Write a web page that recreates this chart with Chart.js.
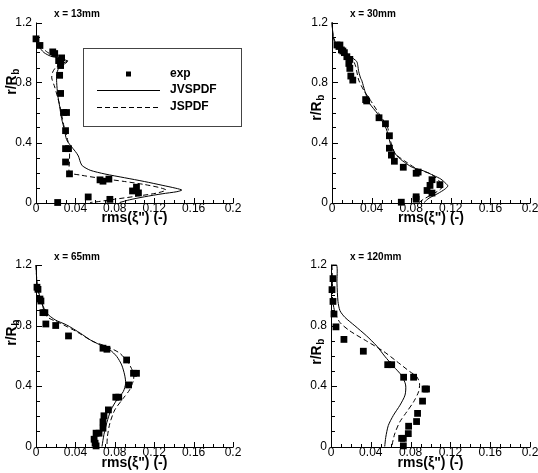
<!DOCTYPE html>
<html><head><meta charset="utf-8">
<script src="https://cdn.jsdelivr.net/npm/chart.js@4/dist/chart.umd.min.js"></script>
<style>
html,body{margin:0;padding:0;background:#fff;}
#wrap{position:relative;width:538px;height:473px;background:#fff;}
canvas{position:absolute;left:0;top:0;}
</style></head><body><div id="wrap">
<canvas id="c0" width="538" height="473"></canvas>
<canvas id="c1" width="538" height="473"></canvas>
<canvas id="c2" width="538" height="473"></canvas>
<canvas id="c3" width="538" height="473"></canvas>
</div>
<script>
// ---------- data ----------
const xTickValues = [0, 0.04, 0.08, 0.12, 0.16, 0.2];
const xTickLabels = ['0', '0.04', '0.08', '0.12', '0.16', '0.2'];
const yTickValues = [0, 0.4, 0.8, 1.2];
const yTickLabels = ['0', '0.4', '0.8', '1.2'];
const panelTitles = ['x = 13mm', 'x = 30mm', 'x = 65mm', 'x = 120mm'];
const seriesNames = ['exp', 'JVSPDF', 'JSPDF'];
const xAxisTitle = 'rms(ξ") (-)';

// pairs: [rms, r/Rb]
const exp13 = [[0.000,1.091],[0.004,1.047],[0.017,1.004],[0.019,0.993],[0.026,0.964],[0.023,0.946],[0.025,0.930],[0.025,0.913],[0.024,0.848],[0.025,0.727],[0.028,0.600],[0.031,0.600],[0.030,0.479],[0.030,0.359],[0.033,0.359],[0.030,0.270],[0.034,0.191],[0.065,0.151],[0.068,0.142],[0.074,0.156],[0.098,0.077],[0.102,0.102],[0.104,0.064],[0.053,0.037],[0.075,0.021],[0.022,0.000]];
const jv13 = [[0.000,1.080],[0.003,1.040],[0.008,1.000],[0.015,0.975],[0.022,0.965],[0.028,0.955],[0.032,0.940],[0.028,0.920],[0.023,0.895],[0.021,0.850],[0.021,0.800],[0.022,0.720],[0.024,0.640],[0.026,0.560],[0.029,0.480],[0.031,0.420],[0.035,0.380],[0.040,0.340],[0.043,0.310],[0.045,0.270],[0.047,0.245],[0.055,0.215],[0.070,0.190],[0.090,0.165],[0.110,0.140],[0.128,0.115],[0.142,0.095],[0.148,0.083],[0.143,0.072],[0.128,0.058],[0.110,0.038],[0.095,0.018],[0.085,0.000]];
const js13 = [[0.000,1.100],[0.005,1.040],[0.012,1.000],[0.020,0.975],[0.028,0.960],[0.032,0.945],[0.026,0.925],[0.020,0.900],[0.017,0.870],[0.016,0.830],[0.019,0.770],[0.024,0.650],[0.028,0.520],[0.032,0.420],[0.034,0.350],[0.034,0.270],[0.034,0.200],[0.045,0.183],[0.065,0.162],[0.090,0.140],[0.110,0.120],[0.125,0.100],[0.132,0.083],[0.122,0.062],[0.100,0.040],[0.078,0.020],[0.062,0.005],[0.055,0.000]];

const exp30 = [[0.005,1.050],[0.008,1.050],[0.007,1.040],[0.0095,1.017],[0.011,1.010],[0.0125,0.999],[0.015,0.972],[0.018,0.954],[0.017,0.927],[0.018,0.894],[0.019,0.843],[0.021,0.816],[0.034,0.686],[0.035,0.677],[0.0475,0.565],[0.054,0.525],[0.058,0.445],[0.058,0.362],[0.060,0.316],[0.063,0.275],[0.072,0.235],[0.085,0.195],[0.087,0.203],[0.101,0.152],[0.099,0.114],[0.109,0.119],[0.096,0.080],[0.101,0.063],[0.085,0.038],[0.085,0.022],[0.070,0.002]];
const jv30 = [[0.000,1.200],[0.001,1.120],[0.003,1.060],[0.010,1.017],[0.019,0.972],[0.025,0.940],[0.026,0.915],[0.027,0.872],[0.029,0.827],[0.030,0.815],[0.032,0.770],[0.034,0.726],[0.038,0.660],[0.046,0.592],[0.054,0.503],[0.057,0.447],[0.059,0.391],[0.064,0.324],[0.071,0.279],[0.081,0.235],[0.092,0.212],[0.103,0.179],[0.110,0.156],[0.115,0.127],[0.117,0.110],[0.114,0.089],[0.107,0.060],[0.098,0.029],[0.093,0.000]];
const js30 = [[0.000,1.200],[0.001,1.120],[0.004,1.060],[0.011,1.010],[0.019,0.965],[0.022,0.940],[0.024,0.905],[0.027,0.816],[0.032,0.749],[0.039,0.680],[0.0475,0.592],[0.056,0.503],[0.058,0.440],[0.060,0.391],[0.064,0.324],[0.073,0.279],[0.086,0.223],[0.100,0.190],[0.108,0.145],[0.112,0.112],[0.109,0.085],[0.100,0.050],[0.092,0.020],[0.088,0.000]];

const exp65 = [[0.001,1.053],[0.002,1.039],[0.004,0.975],[0.005,0.962],[0.007,0.885],[0.009,0.885],[0.010,0.810],[0.020,0.800],[0.033,0.731],[0.068,0.650],[0.072,0.643],[0.092,0.572],[0.099,0.484],[0.102,0.484],[0.094,0.407],[0.081,0.326],[0.084,0.326],[0.0735,0.242],[0.069,0.203],[0.068,0.163],[0.068,0.121],[0.064,0.088],[0.061,0.088],[0.059,0.048],[0.060,0.022],[0.061,0.004]];
const jv65 = [[0.000,1.200],[0.001,1.080],[0.003,1.013],[0.006,0.947],[0.011,0.881],[0.0195,0.837],[0.031,0.804],[0.045,0.749],[0.055,0.705],[0.065,0.672],[0.075,0.639],[0.082,0.595],[0.087,0.539],[0.090,0.473],[0.091,0.418],[0.0886,0.363],[0.082,0.308],[0.076,0.240],[0.072,0.160],[0.069,0.080],[0.067,0.000]];
const js65 = [[0.000,1.200],[0.001,1.080],[0.003,1.010],[0.006,0.945],[0.011,0.859],[0.0246,0.815],[0.041,0.760],[0.058,0.694],[0.072,0.661],[0.085,0.617],[0.094,0.550],[0.099,0.484],[0.099,0.440],[0.095,0.374],[0.0886,0.319],[0.080,0.242],[0.075,0.154],[0.0725,0.066],[0.072,0.000]];

const exp120 = [[0.002,1.110],[0.001,1.037],[0.002,0.959],[0.003,0.876],[0.005,0.791],[0.013,0.708],[0.0325,0.630],[0.057,0.541],[0.061,0.541],[0.073,0.458],[0.083,0.458],[0.0945,0.380],[0.096,0.380],[0.092,0.300],[0.087,0.219],[0.086,0.165],[0.078,0.134],[0.0777,0.085],[0.0727,0.054],[0.071,0.054],[0.0727,0.004]];
const jv120 = [[0.000,1.200],[0.0057,1.200],[0.006,1.080],[0.007,0.960],[0.009,0.898],[0.014,0.854],[0.024,0.798],[0.0358,0.731],[0.046,0.664],[0.054,0.597],[0.0627,0.530],[0.071,0.469],[0.075,0.407],[0.0744,0.340],[0.0693,0.273],[0.0627,0.206],[0.0576,0.139],[0.055,0.060],[0.054,0.000]];
const js120 = [[0.001,1.200],[0.0015,1.050],[0.0017,0.966],[0.004,0.887],[0.009,0.820],[0.019,0.764],[0.0358,0.697],[0.0526,0.630],[0.066,0.563],[0.079,0.496],[0.086,0.463],[0.089,0.418],[0.088,0.362],[0.083,0.295],[0.076,0.228],[0.069,0.161],[0.064,0.083],[0.061,0.000]];

// ---------- layout ----------
const W = 538, H = 473;
const FONT = '"Liberation Sans", Arial, Helvetica, sans-serif';
const panels = [
  {id:'c0', title:panelTitles[0], exp:exp13, jv:jv13, js:js13, L:36, T:22.5, R:233, B:202.5, tx:54, ty:14, yx:12, yy:82, xty:218, legend:true},
  {id:'c1', title:panelTitles[1], exp:exp30, jv:jv30, js:js30, L:332, T:22.5, R:530, B:202.5, tx:350, ty:14, yx:317, yy:108, xty:218, legend:false},
  {id:'c2', title:panelTitles[2], exp:exp65, jv:jv65, js:js65, L:36, T:265, R:233, B:446.5, tx:54, ty:257, yx:12, yy:333, xty:463, legend:false},
  {id:'c3', title:panelTitles[3], exp:exp120, jv:jv120, js:js120, L:331, T:265, R:530, B:446.5, tx:350, ty:257, yx:317, yy:352, xty:463, legend:false}
];
const DASH = [5, 3];
const toPts = a => a.map(p => ({x:p[0], y:p[1]}));

const decor = {
  id:'decor',
  afterDraw(chart) {
    const p = chart.options.plugins.decor.panel;
    const ctx = chart.ctx, xs = chart.scales.x, ys = chart.scales.y;
    const x0 = xs.getPixelForValue(0), x1 = xs.getPixelForValue(0.2);
    const y0 = ys.getPixelForValue(0), y1 = ys.getPixelForValue(1.2);
    ctx.save();
    ctx.strokeStyle = '#000'; ctx.lineWidth = 1;
    ctx.beginPath();
    ctx.moveTo(Math.round(x0)+0.5, y1); ctx.lineTo(Math.round(x0)+0.5, Math.round(y0)+0.5);
    ctx.lineTo(x1+0.5, Math.round(y0)+0.5);
    for (let i = 0; i <= 20; i++) {
      const px = Math.round(xs.getPixelForValue(i/100)) + 0.5;
      const len = (i % 4 === 0) ? 5 : 3;
      ctx.moveTo(px, Math.round(y0)); ctx.lineTo(px, Math.round(y0) - len);
    }
    for (let i = 0; i <= 12; i++) {
      const py = Math.round(ys.getPixelForValue(i/10)) + 0.5;
      const len = (i % 4 === 0) ? 5 : 3;
      ctx.moveTo(Math.round(x0)+1, py); ctx.lineTo(Math.round(x0) + 1 + len, py);
    }
    ctx.stroke();
    ctx.fillStyle = '#000';
    // panel title
    ctx.font = 'bold 10px ' + FONT;
    ctx.textAlign = 'left'; ctx.textBaseline = 'middle';
    ctx.fillText(p.title, p.tx, p.ty);
    // x axis title
    ctx.font = 'bold 14px ' + FONT;
    ctx.textAlign = 'center';
    ctx.fillText(xAxisTitle, (x0 + x1) / 2, p.xty);
    // y axis title with subscript
    ctx.save();
    ctx.translate(p.yx, p.yy); ctx.rotate(-Math.PI/2);
    ctx.font = 'bold 14px ' + FONT;
    const w1 = ctx.measureText('r/R').width;
    ctx.font = 'bold 10px ' + FONT;
    const w2 = ctx.measureText('b').width;
    const st = -(w1 + w2) / 2;
    ctx.textAlign = 'left';
    ctx.font = 'bold 14px ' + FONT;
    ctx.fillText('r/R', st, 0);
    ctx.font = 'bold 10px ' + FONT;
    ctx.fillText('b', st + w1 + 0.5, 4.5);
    ctx.restore();
    // legend
    if (p.legend) {
      const ds = chart.data.datasets;
      const bx = x0 + 47, by = y1 + 25, bw = 158, bh = 78;
      ctx.fillStyle = '#fff';
      ctx.fillRect(bx, by, bw, bh);
      ctx.strokeStyle = '#444'; ctx.lineWidth = 1;
      ctx.strokeRect(Math.round(bx)+0.5, Math.round(by)+0.5, bw, bh);
      const rows = [by + 26.5, by + 42.5, by + 59.5];
      const lx0 = bx + 14, lx1 = bx + 77, tx = bx + 87;
      ctx.fillStyle = '#000';
      ctx.fillRect(bx + 43, rows[0] - 2.5, 5, 5);
      ctx.strokeStyle = '#000';
      ctx.beginPath(); ctx.moveTo(lx0, Math.round(rows[1])+0.5); ctx.lineTo(lx1, Math.round(rows[1])+0.5); ctx.stroke();
      ctx.setLineDash(DASH);
      ctx.beginPath(); ctx.moveTo(lx0, Math.round(rows[2])+0.5); ctx.lineTo(lx1, Math.round(rows[2])+0.5); ctx.stroke();
      ctx.setLineDash([]);
      ctx.font = 'bold 12px ' + FONT;
      ctx.textAlign = 'left'; ctx.textBaseline = 'middle';
      for (let k = 0; k < 3; k++) ctx.fillText(ds[k].label, tx, rows[k]);
    }
    ctx.restore();
  }
};

panels.forEach(p => {
  new Chart(document.getElementById(p.id), {
    type: 'scatter',
    data: {
      datasets: [
        {label: seriesNames[0], data: toPts(p.exp), pointStyle: 'rect', pointRadius: 4.8, pointBackgroundColor: '#000', pointBorderWidth: 0, showLine: false, clip: false},
        {label: seriesNames[1], data: toPts(p.jv), showLine: true, pointRadius: 0, borderColor: '#000', borderWidth: 1, tension: 0.25, clip: false},
        {label: seriesNames[2], data: toPts(p.js), showLine: true, pointRadius: 0, borderColor: '#000', borderWidth: 1, borderDash: DASH, tension: 0.25, clip: false}
      ]
    },
    options: {
      responsive: false, animation: false, devicePixelRatio: 1, events: [],
      layout: {padding: {left: 0, top: p.T, right: W - p.R, bottom: 0}},
      plugins: {legend: {display: false}, tooltip: {enabled: false}, decor: {panel: p}},
      scales: {
        x: {
          type: 'linear', min: 0, max: 0.2,
          grid: {display: false, drawTicks: false}, border: {display: false},
          afterBuildTicks: s => { s.ticks = xTickValues.map(v => ({value: v})); },
          afterFit: s => { s.height = H - p.B; s.paddingLeft = 0; s.paddingRight = 0; },
          ticks: {autoSkip: false, maxRotation: 0, padding: 0, color: '#000', font: {family: FONT, size: 12, lineHeight: 1},
                  callback: (v, i) => xTickLabels[i]}
        },
        y: {
          type: 'linear', min: 0, max: 1.2,
          grid: {display: false, drawTicks: false}, border: {display: false},
          afterBuildTicks: s => { s.ticks = yTickValues.map(v => ({value: v})); },
          afterFit: s => { s.width = p.L; s.paddingTop = 0; s.paddingBottom = 0; },
          ticks: {autoSkip: false, padding: 4, color: '#000', font: {family: FONT, size: 12},
                  callback: (v, i) => yTickLabels[i]}
        }
      }
    },
    plugins: [decor]
  });
});
</script>
</body></html>
